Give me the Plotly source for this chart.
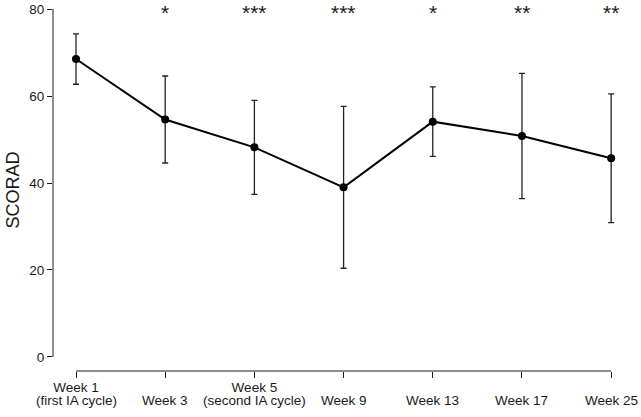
import plotly.graph_objects as go

# Data
label_line1 = ["Week 1", "", "Week 5", "", "", "", ""]
label_line2 = ["(first IA cycle)", "Week 3", "(second IA cycle)", "Week 9",
               "Week 13", "Week 17", "Week 25"]
scorad_mean = [68.5, 54.6, 48.2, 39.0, 54.1, 50.8, 45.7]
scorad_sd = [5.8, 10.0, 10.8, 18.6, 8.0, 14.4, 14.8]
significance = ["", "*", "***", "***", "*", "**", "**"]
y_ticks = [0, 20, 40, 60, 80]

x_idx = list(range(len(label_line2)))
FONT = "Liberation Sans, Arial, Helvetica, sans-serif"
INK = "#1a1a1a"
TICK_SIZE = 13.5

fig = go.Figure()
fig.add_trace(go.Scatter(
    x=x_idx, y=scorad_mean, mode="lines+markers",
    line=dict(color="black", width=2),
    marker=dict(color="black", size=8),
    error_y=dict(type="data", array=scorad_sd, symmetric=True,
                 color="#222222", thickness=1.3, width=3),
    cliponaxis=False, showlegend=False, hoverinfo="skip",
))

for i, s in enumerate(significance):
    if s:
        fig.add_annotation(x=i, y=1, xref="x", yref="paper", text=s, showarrow=False,
                           yanchor="top", yshift=9, borderpad=0,
                           font=dict(family=FONT, size=21, color=INK))

# second line of the category labels (tight line spacing like the original)
for i, t in enumerate(label_line2):
    fig.add_annotation(x=i, y=0, xref="x", yref="paper", text=t, showarrow=False,
                       yanchor="top", yshift=-21, borderpad=0,
                       font=dict(family=FONT, size=TICK_SIZE, color=INK))

# R-style detached axis lines
fig.add_shape(type="line", xref="paper", x0=0, x1=0, yref="y", y0=y_ticks[0], y1=y_ticks[-1],
              line=dict(color=INK, width=1))
fig.add_shape(type="line", xref="x", x0=x_idx[0], x1=x_idx[-1], yref="paper", y0=0, y1=0,
              line=dict(color=INK, width=1))

fig.update_xaxes(range=[-0.258, 6.2], tickvals=x_idx, ticktext=label_line1, automargin=False,
                 showline=False, showgrid=False, zeroline=False,
                 ticks="outside", ticklen=6, tickcolor=INK, tickwidth=1,
                 ticklabelstandoff=-2,
                 tickfont=dict(family=FONT, size=TICK_SIZE, color=INK))
fig.update_yaxes(range=[-3.22, 80], tickvals=y_ticks, showline=False, showgrid=False,
                 zeroline=False, ticks="outside", ticklen=5, tickcolor=INK, tickwidth=1,
                 automargin=False,
                 tickfont=dict(family=FONT, size=TICK_SIZE, color=INK),
                 title=dict(text="SCORAD", font=dict(family=FONT, size=18, color=INK), standoff=4))

fig.update_layout(width=641, height=417, margin=dict(l=53, r=12, t=9, b=46),
                  plot_bgcolor="white", paper_bgcolor="white", hovermode=False)

fig.write_html("out.html", config={"displayModeBar": False},
               post_script="document.body.style.margin='0';")
